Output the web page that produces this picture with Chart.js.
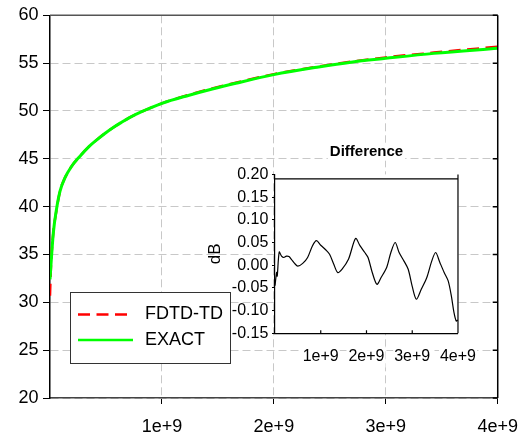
<!DOCTYPE html>
<html>
<head>
<meta charset="utf-8">
<script src="https://cdn.jsdelivr.net/npm/chart.js@4/dist/chart.umd.min.js"></script>
<style>
  html, body { margin: 0; padding: 0; background: #fff; }
  #wrap { position: relative; width: 530px; height: 435px; }
  #mainChart { position: absolute; left: 0; top: 0; }
  #insetChart { position: absolute; left: 200px; top: 135px; }
</style>
</head>
<body>
<div id="wrap">
  <canvas id="mainChart" width="530" height="435"></canvas>
  <canvas id="insetChart" width="290" height="235"></canvas>
</div>
<script>
// main curves (Hz, dB)
const freqHz = [0, 0.009e9, 0.03e9, 0.059e9, 0.089e9, 0.133e9, 0.192e9, 0.266e9, 0.35e9, 0.415e9,
  0.49e9, 0.562e9, 0.64e9, 0.71e9, 0.814e9, 1.0e9, 1.243e9, 1.45e9, 1.66e9, 2.0e9,
  2.4e9, 2.69e9, 3.0e9, 3.43e9, 4.0e9];
const fdtdDb = [30.7, 33.9, 37.3, 39.7, 41.6, 43.0, 44.2, 45.25, 46.3, 46.95,
  47.65, 48.25, 48.82, 49.3, 49.9, 50.8, 51.7, 52.35, 52.95, 53.85,
  54.65, 55.15, 55.6, 56.1, 56.72];
const exactDb = [32.4, 34.0, 37.3, 39.8, 41.6, 43.0, 44.2, 45.25, 46.3, 46.95,
  47.65, 48.25, 48.82, 49.3, 49.9, 50.8, 51.65, 52.3, 52.9, 53.8,
  54.6, 55.1, 55.5, 56.02, 56.55];

// inset: difference (Hz, dB)
const diffFreqHz = [0, 0.036e9, 0.049e9, 0.092e9, 0.143e9, 0.193e9, 0.25e9, 0.306e9, 0.358e9, 0.428e9,
  0.499e9, 0.606e9, 0.713e9, 0.82e9, 0.906e9, 1.0e9, 1.107e9, 1.193e9, 1.285e9, 1.37e9,
  1.463e9, 1.606e9, 1.762e9, 1.857e9, 1.963e9, 2.034e9, 2.126e9, 2.227e9, 2.319e9, 2.441e9,
  2.533e9, 2.627e9, 2.713e9, 2.82e9, 2.912e9, 2.998e9, 3.09e9, 3.197e9, 3.319e9, 3.426e9,
  3.512e9, 3.604e9, 3.698e9, 3.784e9, 3.854e9, 3.912e9, 3.961e9, 3.998e9];
const diffDb = [-0.045, -0.016, -0.024, 0.029, 0.020, 0.017, 0.020, 0.019, 0.013, 0.004,
  -0.002, 0.004, 0.017, 0.043, 0.054, 0.044, 0.034, 0.024, 0.002, -0.016,
  -0.009, 0.013, 0.059, 0.043, 0.028, 0.017, -0.016, -0.042, -0.027, -0.005,
  0.028, 0.050, 0.028, 0.009, -0.009, -0.046, -0.075, -0.053, -0.027, 0.009,
  0.028, 0.006, -0.016, -0.034, -0.067, -0.104, -0.123, -0.121];

const xTickLabels = ["1e+9", "2e+9", "3e+9", "4e+9"];
const insetYLabels = ["-0.15", "-0.10", "-0.05", "0.00", "0.05", "0.10", "0.15", "0.20"];
const insetTitle = "Difference";
const insetTopLine = 0.19;

const FONT = '"Liberation Sans", Arial, sans-serif';
Chart.defaults.font.family = FONT;
Chart.defaults.color = "#000";

function toPoints(xs, ys) {
  return xs.map((x, i) => ({ x, y: ys[i] }));
}

function xLabel(v) {
  return xTickLabels[Math.round(v / 1e9) - 1] || "";
}

function dropZero(scale) {
  scale.ticks = scale.ticks.filter((t) => t.value > 0);
}

// frame, right-hand ticks and legend box of the main plot
const mainFrame = {
  id: "mainFrame",
  afterDraw(chart) {
    const { ctx, chartArea: a, scales: { y } } = chart;
    ctx.save();
    ctx.lineWidth = 1.5;
    ctx.strokeStyle = "#555";
    ctx.beginPath();
    ctx.moveTo(a.left, a.top);
    ctx.lineTo(a.right, a.top);
    ctx.stroke();
    ctx.strokeStyle = "#000";
    ctx.beginPath();
    ctx.moveTo(a.right, a.top);
    ctx.lineTo(a.right, a.bottom);
    y.ticks.forEach((t) => {
      const py = y.getPixelForValue(t.value);
      ctx.moveTo(a.right - 5, py);
      ctx.lineTo(a.right, py);
    });
    ctx.stroke();

    const bx = 70, by = 292, bw = 160, bh = 71;
    ctx.fillStyle = "#fff";
    ctx.fillRect(bx, by, bw, bh);
    ctx.lineWidth = 1;
    ctx.strokeStyle = "#333";
    ctx.strokeRect(bx + 0.5, by + 0.5, bw, bh);
    ctx.font = "18px " + FONT;
    ctx.textBaseline = "middle";
    chart.data.datasets.forEach((ds, i) => {
      const ly = by + 22.5 + i * 25.5;
      ctx.strokeStyle = ds.borderColor;
      ctx.lineWidth = 2.7;
      ctx.setLineDash(ds.borderDash || []);
      ctx.beginPath();
      ctx.moveTo(bx + 8, ly);
      ctx.lineTo(bx + (ds.borderDash ? 57 : 63), ly);
      ctx.stroke();
      ctx.setLineDash([]);
      ctx.fillStyle = "#000";
      ctx.fillText(ds.label, bx + 75, ly);
    });
    ctx.restore();
  },
};

// white plot area, frame, inner ticks and title of the inset
const insetFrame = {
  id: "insetFrame",
  beforeDraw(chart) {
    const { ctx, chartArea: a } = chart;
    ctx.save();
    ctx.fillStyle = "#fff";
    ctx.fillRect(a.left, a.top, a.right - a.left, a.bottom - a.top);
    ctx.restore();
  },
  afterDraw(chart) {
    const { ctx, chartArea: a, scales: { x, y } } = chart;
    ctx.save();
    ctx.strokeStyle = "#000";
    ctx.lineWidth = 1.2;
    const topY = y.getPixelForValue(insetTopLine);
    ctx.beginPath();
    ctx.moveTo(a.left, topY);
    ctx.lineTo(a.right, topY);
    ctx.moveTo(a.right, a.top);
    ctx.lineTo(a.right, a.bottom);
    x.ticks.forEach((t) => {
      const px = x.getPixelForValue(t.value);
      ctx.moveTo(px, a.bottom);
      ctx.lineTo(px, a.bottom - 3);
    });
    ctx.stroke();

    ctx.font = "bold 15px " + FONT;
    const w = ctx.measureText(insetTitle).width;
    const cx = (a.left + a.right) / 2;
    const cy = 16.7;
    ctx.fillStyle = "#fff";
    ctx.fillRect(cx - w / 2 - 2, cy - 9, w + 4, 18);
    ctx.fillStyle = "#000";
    ctx.textAlign = "center";
    ctx.textBaseline = "middle";
    ctx.fillText(insetTitle, cx, cy);
    ctx.restore();
  },
};

new Chart(document.getElementById("mainChart"), {
  type: "line",
  data: {
    datasets: [
      {
        label: "FDTD-TD",
        data: toPoints(freqHz, fdtdDb),
        borderColor: "#ff0000",
        borderWidth: 2.5,
        borderDash: [12, 6.5],
        pointRadius: 0,
        cubicInterpolationMode: "monotone",
        order: 2,
      },
      {
        label: "EXACT",
        data: toPoints(freqHz, exactDb),
        borderColor: "#00ff00",
        borderWidth: 3,
        pointRadius: 0,
        cubicInterpolationMode: "monotone",
        order: 1,
      },
    ],
  },
  options: {
    responsive: false,
    animation: false,
    layout: { padding: { top: 13, right: 31, left: 0, bottom: 0 } },
    plugins: { legend: { display: false }, tooltip: { enabled: false } },
    scales: {
      x: {
        type: "linear",
        min: 0,
        max: 4e9,
        afterFit: (s) => { s.height = 37; },
        afterBuildTicks: dropZero,
        ticks: { stepSize: 1e9, padding: 12, font: { size: 18 }, color: "#000", callback: xLabel },
        grid: { color: "#c8c8c8", tickColor: "#000", tickLength: 6, lineWidth: 1 },
        border: { color: "#444", width: 1.5, dash: [8, 4] },
      },
      y: {
        min: 20,
        max: 60,
        afterFit: (s) => { s.width = 50; },
        ticks: { stepSize: 5, padding: 4.5, font: { size: 18 }, color: "#000" },
        grid: { color: "#c8c8c8", tickColor: "#000", tickLength: 7, lineWidth: 1 },
        border: { color: "#000", width: 1.5, dash: [8, 4] },
      },
    },
  },
  plugins: [mainFrame],
});

new Chart(document.getElementById("insetChart"), {
  type: "line",
  data: {
    datasets: [
      {
        label: "Difference",
        data: toPoints(diffFreqHz, diffDb),
        borderColor: "#000",
        borderWidth: 1.2,
        pointRadius: 0,
        tension: 0.3,
      },
    ],
  },
  options: {
    responsive: false,
    animation: false,
    layout: { padding: { top: 39.4, right: 28.3, left: 0, bottom: 0 } },
    plugins: { legend: { display: false }, tooltip: { enabled: false } },
    scales: {
      x: {
        type: "linear",
        min: 0,
        max: 4e9,
        afterFit: (s) => { s.height = 36.7; },
        afterBuildTicks: dropZero,
        ticks: {
          stepSize: 1e9,
          padding: 14,
          font: { size: 16 },
          color: "#000",
          showLabelBackdrop: true,
          backdropColor: "#fff",
          backdropPadding: 1,
          callback: xLabel,
        },
        grid: { drawOnChartArea: false, drawTicks: false },
        border: { color: "#000", width: 1.2 },
      },
      y: {
        min: -0.15,
        max: 0.2,
        afterFit: (s) => { s.width = 75; },
        ticks: {
          stepSize: 0.05,
          padding: 3.7,
          font: { size: 16 },
          color: "#000",
          callback: (v) => insetYLabels[Math.round((v + 0.15) / 0.05)],
        },
        grid: { drawOnChartArea: false, tickLength: 3, tickColor: "#000" },
        border: { color: "#000", width: 1.2 },
        title: { display: true, text: "dB", font: { size: 17 }, color: "#000", padding: { top: 4.8, bottom: 0 } },
      },
    },
  },
  plugins: [insetFrame],
});
</script>
</body>
</html>
